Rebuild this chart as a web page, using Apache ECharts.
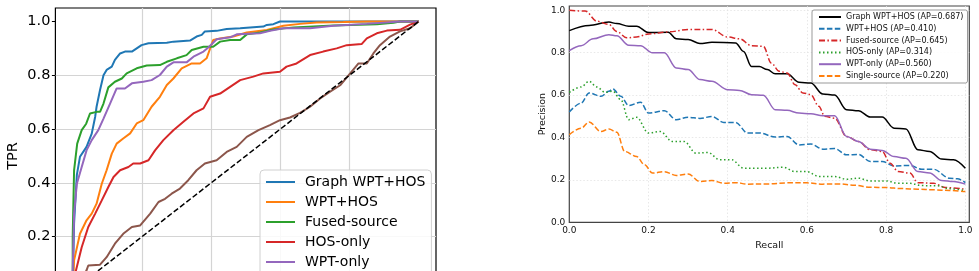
<!DOCTYPE html>
<html>
<head>
<meta charset="utf-8">
<script src="https://cdn.jsdelivr.net/npm/echarts@6/dist/echarts.min.js"></script>
<style>
  html, body { margin: 0; padding: 0; background: #fff; }
  #chart { width: 979px; height: 271px; }
</style>
</head>
<body>
<div id="chart"></div>
<script>
// ROC curves (left panel): [FPR, TPR]
const rocNames = ['Graph WPT+HOS', 'WPT+HOS', 'Fused-source', 'HOS-only', 'WPT-only', 'Single-source'];
const rocGraph = [[0,0],[0.004,0.25],[0.012,0.43],[0.021,0.497],[0.04,0.534],[0.055,0.583],[0.065,0.646],[0.069,0.683],[0.079,0.745],[0.089,0.8],[0.098,0.82],[0.113,0.832],[0.122,0.857],[0.137,0.881],[0.151,0.888],[0.171,0.888],[0.185,0.9],[0.199,0.912],[0.219,0.919],[0.272,0.921],[0.291,0.925],[0.339,0.929],[0.358,0.944],[0.373,0.95],[0.382,0.963],[0.416,0.965],[0.445,0.972],[0.484,0.975],[0.551,0.981],[0.561,0.987],[0.58,0.99],[0.599,1.0],[1,1]];
const rocWptHos = [[0,0],[0.004,0.112],[0.021,0.211],[0.04,0.261],[0.055,0.286],[0.069,0.323],[0.084,0.397],[0.098,0.447],[0.113,0.509],[0.127,0.546],[0.146,0.565],[0.166,0.584],[0.185,0.621],[0.204,0.633],[0.228,0.683],[0.252,0.72],[0.272,0.764],[0.291,0.788],[0.315,0.826],[0.344,0.844],[0.368,0.844],[0.387,0.863],[0.406,0.931],[0.426,0.937],[0.464,0.944],[0.503,0.959],[0.561,0.968],[0.609,0.984],[0.657,0.991],[0.705,0.996],[0.782,0.998],[0.85,1.0],[1,1]];
const rocFused = [[0,0],[0,0.2],[0.004,0.447],[0.013,0.546],[0.026,0.596],[0.039,0.62],[0.05,0.658],[0.069,0.664],[0.079,0.664],[0.089,0.695],[0.103,0.755],[0.122,0.776],[0.142,0.788],[0.156,0.807],[0.185,0.826],[0.214,0.836],[0.252,0.838],[0.272,0.85],[0.301,0.863],[0.329,0.875],[0.344,0.894],[0.378,0.906],[0.406,0.906],[0.426,0.925],[0.455,0.931],[0.484,0.931],[0.503,0.952],[0.541,0.959],[0.58,0.97],[0.638,0.978],[0.753,0.985],[0.879,0.99],[0.927,0.995],[0.946,1.0],[1,1]];
const rocHos = [[0,0],[0.007,0.062],[0.026,0.161],[0.045,0.236],[0.065,0.286],[0.084,0.335],[0.103,0.385],[0.118,0.422],[0.137,0.447],[0.161,0.459],[0.175,0.472],[0.195,0.472],[0.219,0.484],[0.238,0.521],[0.262,0.559],[0.291,0.596],[0.32,0.627],[0.349,0.658],[0.378,0.677],[0.397,0.72],[0.426,0.732],[0.455,0.757],[0.484,0.782],[0.522,0.795],[0.551,0.807],[0.599,0.813],[0.618,0.832],[0.647,0.844],[0.686,0.875],[0.724,0.888],[0.763,0.9],[0.792,0.912],[0.835,0.916],[0.85,0.937],[0.879,0.956],[0.908,0.966],[0.946,0.969],[0.975,0.988],[1,1]];
const rocWptOnly = [[0,0],[0,0.075],[0.004,0.286],[0.012,0.397],[0.026,0.459],[0.04,0.521],[0.055,0.559],[0.074,0.596],[0.089,0.639],[0.108,0.695],[0.127,0.751],[0.151,0.751],[0.171,0.77],[0.204,0.776],[0.228,0.782],[0.252,0.801],[0.272,0.832],[0.291,0.848],[0.329,0.848],[0.349,0.869],[0.378,0.888],[0.392,0.903],[0.416,0.934],[0.455,0.941],[0.474,0.952],[0.541,0.956],[0.57,0.965],[0.609,0.975],[0.686,0.975],[0.753,0.984],[0.85,0.991],[0.946,1.0],[1,1]];
const rocSingle = [[0,0],[0.02,0.03],[0.04,0.075],[0.045,0.093],[0.079,0.096],[0.098,0.124],[0.122,0.174],[0.146,0.211],[0.171,0.236],[0.195,0.242],[0.224,0.286],[0.248,0.329],[0.267,0.341],[0.286,0.36],[0.31,0.379],[0.334,0.41],[0.358,0.447],[0.382,0.472],[0.416,0.484],[0.445,0.515],[0.474,0.534],[0.503,0.571],[0.537,0.596],[0.57,0.615],[0.599,0.633],[0.628,0.643],[0.657,0.66],[0.686,0.683],[0.715,0.714],[0.744,0.739],[0.773,0.763],[0.802,0.807],[0.826,0.844],[0.85,0.844],[0.869,0.881],[0.888,0.912],[0.917,0.944],[0.946,0.963],[0.975,0.975],[1,1]];
const rocChance = [[0,0],[1,1]];

// Precision-recall curves (right panel): [recall, precision]
const prNames = ['Graph WPT+HOS (AP=0.687)', 'WPT+HOS (AP=0.410)', 'Fused-source (AP=0.645)', 'HOS-only (AP=0.314)', 'WPT-only (AP=0.560)', 'Single-source (AP=0.220)'];
const prGraph = [[0,0.904],[0.05,0.928],[0.1,0.944],[0.12,0.937],[0.15,0.925],[0.17,0.925],[0.2,0.895],[0.25,0.896],[0.27,0.865],[0.3,0.862],[0.33,0.843],[0.36,0.849],[0.42,0.846],[0.44,0.806],[0.46,0.735],[0.48,0.735],[0.5,0.72],[0.52,0.70],[0.55,0.70],[0.58,0.66],[0.61,0.657],[0.64,0.605],[0.67,0.60],[0.7,0.531],[0.73,0.526],[0.76,0.496],[0.79,0.496],[0.82,0.444],[0.85,0.44],[0.88,0.342],[0.91,0.334],[0.94,0.298],[0.97,0.295],[1.0,0.255]];
const prWptHos = [[0,0.52],[0.03,0.562],[0.05,0.61],[0.08,0.594],[0.1,0.618],[0.11,0.629],[0.13,0.594],[0.15,0.551],[0.18,0.566],[0.2,0.515],[0.24,0.526],[0.27,0.484],[0.3,0.495],[0.33,0.49],[0.36,0.499],[0.39,0.471],[0.42,0.471],[0.45,0.421],[0.48,0.421],[0.52,0.402],[0.55,0.405],[0.58,0.365],[0.61,0.369],[0.64,0.345],[0.67,0.348],[0.7,0.318],[0.73,0.32],[0.76,0.287],[0.79,0.287],[0.82,0.266],[0.86,0.268],[0.89,0.25],[0.92,0.25],[0.96,0.208],[0.98,0.205],[1.0,0.187]];
const prFused = [[0,1.0],[0.04,0.996],[0.07,0.948],[0.1,0.933],[0.12,0.90],[0.145,0.87],[0.17,0.874],[0.2,0.888],[0.25,0.898],[0.3,0.909],[0.36,0.909],[0.4,0.874],[0.43,0.865],[0.46,0.833],[0.49,0.83],[0.51,0.751],[0.53,0.712],[0.55,0.704],[0.57,0.649],[0.59,0.61],[0.61,0.602],[0.63,0.547],[0.645,0.50],[0.67,0.491],[0.7,0.405],[0.73,0.381],[0.76,0.342],[0.79,0.334],[0.81,0.279],[0.83,0.24],[0.86,0.232],[0.88,0.187],[0.92,0.184],[0.95,0.164],[1.0,0.156]];
const prHos = [[0,0.613],[0.03,0.638],[0.05,0.665],[0.07,0.638],[0.09,0.613],[0.11,0.618],[0.13,0.578],[0.15,0.484],[0.17,0.495],[0.2,0.421],[0.23,0.428],[0.26,0.381],[0.29,0.381],[0.32,0.326],[0.35,0.329],[0.38,0.295],[0.41,0.295],[0.44,0.255],[0.47,0.255],[0.5,0.255],[0.54,0.26],[0.57,0.239],[0.6,0.239],[0.63,0.216],[0.67,0.216],[0.7,0.203],[0.73,0.208],[0.76,0.195],[0.8,0.195],[0.83,0.184],[0.86,0.184],[0.89,0.173],[0.93,0.172],[0.96,0.158],[1.0,0.15]];
const prWptOnly = [[0,0.81],[0.03,0.833],[0.06,0.865],[0.1,0.885],[0.12,0.88],[0.15,0.835],[0.18,0.833],[0.21,0.799],[0.24,0.799],[0.27,0.728],[0.3,0.72],[0.33,0.673],[0.36,0.665],[0.4,0.625],[0.43,0.622],[0.46,0.602],[0.49,0.599],[0.52,0.531],[0.55,0.528],[0.58,0.515],[0.61,0.512],[0.64,0.503],[0.67,0.503],[0.7,0.405],[0.73,0.381],[0.76,0.345],[0.79,0.339],[0.82,0.31],[0.85,0.302],[0.88,0.239],[0.91,0.232],[0.94,0.197],[0.97,0.192],[1.0,0.18]];
const prSingle = [[0,0.413],[0.03,0.444],[0.05,0.473],[0.08,0.428],[0.1,0.44],[0.12,0.425],[0.14,0.334],[0.17,0.31],[0.19,0.271],[0.21,0.232],[0.24,0.239],[0.27,0.221],[0.3,0.228],[0.33,0.192],[0.36,0.197],[0.39,0.184],[0.42,0.187],[0.45,0.18],[0.5,0.181],[0.55,0.186],[0.6,0.186],[0.64,0.18],[0.68,0.181],[0.72,0.175],[0.76,0.165],[0.8,0.164],[0.84,0.159],[0.88,0.156],[0.92,0.153],[0.96,0.15],[1.0,0.145]];

const tickVals = [0, 0.2, 0.4, 0.6, 0.8, 1.0];

const FONT = 'DejaVu Sans';
const rocColors = ['#1f77b4', '#ff7f0e', '#2ca02c', '#d62728', '#9467bd', '#8c564b'];
const fmt = v => (Math.abs(v * 5 - Math.round(v * 5)) < 1e-6 ? v.toFixed(1) : '');

const chart = echarts.init(document.getElementById('chart'), null, { renderer: 'canvas' });

const rocData = [rocGraph, rocWptHos, rocFused, rocHos, rocWptOnly, rocSingle];
const rocSeries = rocData.map((d, i) => ({
    name: rocNames[i], type: 'line', xAxisIndex: 0, yAxisIndex: 0,
    data: d, symbol: 'none', animation: false,
    lineStyle: { color: rocColors[i], width: 2 }, itemStyle: { color: rocColors[i] }
}));
rocSeries.push({
    name: 'Chance', type: 'line', xAxisIndex: 0, yAxisIndex: 0, data: rocChance,
    symbol: 'none', animation: false,
    lineStyle: { color: '#000', width: 1.5, type: [5.5, 2.5] }, itemStyle: { color: '#000' }
});

const prData = [prGraph, prWptHos, prFused, prHos, prWptOnly, prSingle];
const prStyles = [
    { color: '#000000', type: 'solid' },
    { color: '#1f77b4', type: [5.5, 2.4] },
    { color: '#d62728', type: [6, 2.4, 1.5, 2.4] },
    { color: '#2ca02c', type: [1.5, 2.5] },
    { color: '#9467bd', type: 'solid' },
    { color: '#ff7f0e', type: [5.5, 2.4] }
];
const prSeries = prData.map((d, i) => ({
    name: prNames[i], type: 'line', xAxisIndex: 1, yAxisIndex: 1,
    data: d, symbol: 'none', smooth: 0.35, smoothMonotone: 'x', animation: false,
    lineStyle: { color: prStyles[i].color, width: 1.5, type: prStyles[i].type },
    itemStyle: { color: prStyles[i].color }
}));

chart.setOption({
    animation: false,
    textStyle: { fontFamily: FONT },
    grid: [
        { left: 55.4, top: 8, width: 380.6, height: 296, containLabel: false, outerBoundsMode: 'none',
          show: true, borderColor: '#000', borderWidth: 1.2, backgroundColor: 'transparent' },
        { left: 569.3, top: 6, width: 400, height: 216.3, containLabel: false, outerBoundsMode: 'none',
          show: true, borderColor: '#444', borderWidth: 1.2, backgroundColor: 'transparent' }
    ],
    xAxis: [
        {
            gridIndex: 0, type: 'value', min: -0.05, max: 1.05, splitNumber: 5,
            axisLine: { show: false, onZero: false }, axisTick: { show: true, length: 3.5, customValues: tickVals, lineStyle: { color: '#000' } },
            axisLabel: { customValues: tickVals, formatter: fmt, fontSize: 14.5, color: '#000', margin: 6 },
            splitLine: { show: true, showMinLine: false, showMaxLine: false, lineStyle: { color: '#d4d4d4', width: 1.2 } },
            name: 'FPR', nameLocation: 'middle', nameGap: 30, nameTextStyle: { fontSize: 14.5, color: '#000' }
        },
        {
            gridIndex: 1, type: 'value', min: 0, max: 1.01, interval: 0.2,
            axisLine: { show: false, onZero: false }, axisTick: { show: false },
            axisLabel: { customValues: tickVals, formatter: fmt, fontSize: 9, color: '#111', margin: 4 },
            splitLine: { show: true, showMinLine: false, showMaxLine: false, lineStyle: { color: '#e2e2e2', width: 0.8, type: [1.5, 2] } },
            name: 'Recall', nameLocation: 'middle', nameGap: 15, nameTextStyle: { fontSize: 9.5, color: '#111' }
        }
    ],
    yAxis: [
        {
            gridIndex: 0, type: 'value', min: -0.05, max: 1.05, splitNumber: 5,
            axisLine: { show: false, onZero: false }, axisTick: { show: true, length: 3.5, customValues: tickVals, lineStyle: { color: '#000' } },
            axisLabel: { customValues: tickVals, formatter: fmt, fontSize: 14.5, color: '#000', margin: 5 },
            splitLine: { show: true, showMinLine: false, showMaxLine: false, lineStyle: { color: '#d4d4d4', width: 1.2 } },
            name: 'TPR', nameLocation: 'middle', nameGap: 35, nameTextStyle: { fontSize: 14.5, color: '#000' }
        },
        {
            gridIndex: 1, type: 'value', min: 0, max: 1.02, interval: 0.2,
            axisLine: { show: false, onZero: false }, axisTick: { show: false },
            axisLabel: { customValues: tickVals, formatter: fmt, fontSize: 9, color: '#111', margin: 4 },
            splitLine: { show: true, showMinLine: false, showMaxLine: false, lineStyle: { color: '#e2e2e2', width: 0.8, type: [1.5, 2] } },
            name: 'Precision', nameLocation: 'middle', nameGap: 22, nameTextStyle: { fontSize: 9.5, color: '#111' }
        }
    ],
    legend: [
        {
            data: rocNames, orient: 'vertical', left: 260, top: 170, height: 130,
            itemWidth: 29, itemHeight: 14, itemGap: 6,
            padding: [5, 6, 5, 5],
            backgroundColor: 'rgba(255,255,255,0.85)', borderColor: '#d0d0d0', borderWidth: 1, borderRadius: 4,
            itemStyle: { opacity: 0 },
            textStyle: { fontSize: 14, color: '#000', fontFamily: FONT, lineHeight: 14, padding: [0, 0, 0, 5] },
            selectedMode: false
        },
        {
            data: prNames, orient: 'vertical', left: 812, top: 10, height: 80,
            itemWidth: 22, itemHeight: 9, itemGap: 2.8,
            padding: [2.5, 4, 2.5, 6],
            backgroundColor: 'rgba(255,255,255,0.9)', borderColor: '#999', borderWidth: 1, borderRadius: 2,
            itemStyle: { opacity: 0 },
            textStyle: { fontSize: 8, color: '#111', fontFamily: FONT, lineHeight: 9 },
            selectedMode: false
        }
    ],
    series: rocSeries.concat(prSeries)
});
</script>
</body>
</html>
